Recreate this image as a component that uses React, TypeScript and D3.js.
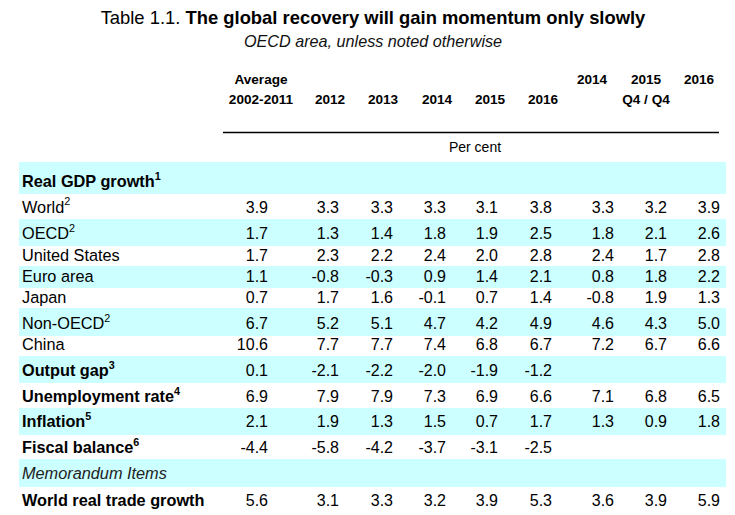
import React from "react";
import * as d3 from "d3";

// ---------- data ----------
const columnKeys = ["avg", "y2012", "y2013", "y2014", "y2015", "y2016", "q2014", "q2015", "q2016"];
const headerTop = ["Average", "", "", "", "", "", "2014", "2015", "2016"];
const headerBottom = ["2002-2011", "2012", "2013", "2014", "2015", "2016", "", "Q4 / Q4", ""];
const unitLabel = "Per cent";

const rowLabels = [
  "Real GDP growth", "World", "OECD", "United States", "Euro area", "Japan", "Non-OECD", "China",
  "Output gap", "Unemployment rate", "Inflation", "Fiscal balance", "Memorandum Items", "World real trade growth",
];
const rowNotes = ["1", "2", "2", "", "", "", "2", "", "3", "4", "5", "6", "", ""];
const rowStyle = ["bold", "normal", "normal", "normal", "normal", "normal", "normal", "normal",
  "bold", "bold", "bold", "bold", "italic", "bold"];
const rowShaded = [true, false, true, false, true, false, true, false, true, false, true, false, true, false];

const world = [3.9, 3.3, 3.3, 3.3, 3.1, 3.8, 3.3, 3.2, 3.9];
const oecd = [1.7, 1.3, 1.4, 1.8, 1.9, 2.5, 1.8, 2.1, 2.6];
const unitedStates = [1.7, 2.3, 2.2, 2.4, 2.0, 2.8, 2.4, 1.7, 2.8];
const euroArea = [1.1, -0.8, -0.3, 0.9, 1.4, 2.1, 0.8, 1.8, 2.2];
const japan = [0.7, 1.7, 1.6, -0.1, 0.7, 1.4, -0.8, 1.9, 1.3];
const nonOecd = [6.7, 5.2, 5.1, 4.7, 4.2, 4.9, 4.6, 4.3, 5.0];
const china = [10.6, 7.7, 7.7, 7.4, 6.8, 6.7, 7.2, 6.7, 6.6];
const outputGap = [0.1, -2.1, -2.2, -2.0, -1.9, -1.2];
const unemployment = [6.9, 7.9, 7.9, 7.3, 6.9, 6.6, 7.1, 6.8, 6.5];
const inflation = [2.1, 1.9, 1.3, 1.5, 0.7, 1.7, 1.3, 0.9, 1.8];
const fiscalBalance = [-4.4, -5.8, -4.2, -3.7, -3.1, -2.5];
const worldTrade = [5.6, 3.1, 3.3, 3.2, 3.9, 5.3, 3.6, 3.9, 5.9];

const rowValues: number[][] = [
  [], world, oecd, unitedStates, euroArea, japan, nonOecd, china,
  outputGap, unemployment, inflation, fiscalBalance, [], worldTrade,
];

// ---------- layout ----------
const W = 735;
const H = 515;
const valueRight = [268, 339, 393, 446, 498, 552, 614, 667, 720];
const headerCenter = [261, 330, 383, 437, 490, 543, 592, 646, 699];
const rowEdges = [162, 194, 219, 246, 266, 288, 308, 336, 356, 383, 408, 435, 459, 487, 515];
const rowBaselines = [187, 212.5, 239, 261, 282, 303, 329, 350, 376, 402, 427, 453, 478.5, 506];

const xValue = d3.scaleOrdinal<string, number>().domain(columnKeys).range(valueRight);
const xHeader = d3.scaleOrdinal<string, number>().domain(columnKeys).range(headerCenter);
const rowIdx = rowLabels.map((_, i) => i);
const yTop = d3.scaleOrdinal<number, number>().domain(rowIdx).range(rowEdges.slice(0, -1));
const yBottom = d3.scaleOrdinal<number, number>().domain(rowIdx).range(rowEdges.slice(1));
const yBase = d3.scaleOrdinal<number, number>().domain(rowIdx).range(rowBaselines);

const fmt = d3.formatLocale({ decimal: ".", thousands: ",", grouping: [3], currency: ["", ""], minus: "-" }).format(".1f");

const FONT = "'Liberation Sans', Arial, Helvetica, sans-serif";
const SHADE = "#CCFFFF";
const bandLeft = 19;
const bandRight = 726;

export default function App() {
  return (
    <svg width={W} height={H} viewBox={`0 0 ${W} ${H}`}
      style={{ position: "absolute", left: 0, top: 0, background: "#fff", fontFamily: FONT }}>
      <rect x={0} y={0} width={W} height={H} fill="#fff" />
      {/* title */}
      <text x={373} y={23.5} textAnchor="middle" fontSize={18.4} fill="#000">
        <tspan>Table 1.1. </tspan>
        <tspan fontWeight="bold">The global recovery will gain momentum only slowly</tspan>
      </text>
      <text x={373} y={46.5} textAnchor="middle" fontSize={16.2} fontStyle="italic" fill="#111">
        OECD area, unless noted otherwise
      </text>

      {/* headers */}
      {columnKeys.map((k, i) => (
        <g key={k} fontWeight="bold" fontSize={13.6} textAnchor="middle" fill="#000">
          {headerTop[i] && <text x={xHeader(k)} y={84}>{headerTop[i]}</text>}
          {headerBottom[i] && <text x={xHeader(k)} y={104}>{headerBottom[i]}</text>}
        </g>
      ))}
      <line x1={223} x2={719} y1={132.5} y2={132.5} stroke="#000" strokeWidth={1.3} />
      <text x={475} y={152} textAnchor="middle" fontSize={14} fill="#000">{unitLabel}</text>

      {/* bands */}
      {rowIdx.filter((i) => rowShaded[i]).map((i) => (
        <rect key={"b" + i} x={bandLeft} y={yTop(i)} width={bandRight - bandLeft}
          height={yBottom(i) - yTop(i)} fill={SHADE} />
      ))}

      {/* rows */}
      {rowIdx.map((i) => (
        <g key={"r" + i}>
          <text x={22} y={yBase(i)} fontSize={16.3}
            fontWeight={rowStyle[i] === "bold" ? "bold" : "normal"}
            fontStyle={rowStyle[i] === "italic" ? "italic" : "normal"}
            fill={rowStyle[i] === "italic" ? "#222" : "#000"}>
            {rowLabels[i]}
            {rowNotes[i] && (
              <tspan dy={-7.5} fontSize={10.8}>{rowNotes[i]}</tspan>
            )}
          </text>
          {rowValues[i].map((v, j) => (
            <text key={j} x={xValue(columnKeys[j])} y={yBase(i)} fontSize={16}
              textAnchor="end" fill="#000">{fmt(v)}</text>
          ))}
        </g>
      ))}
    </svg>
  );
}
